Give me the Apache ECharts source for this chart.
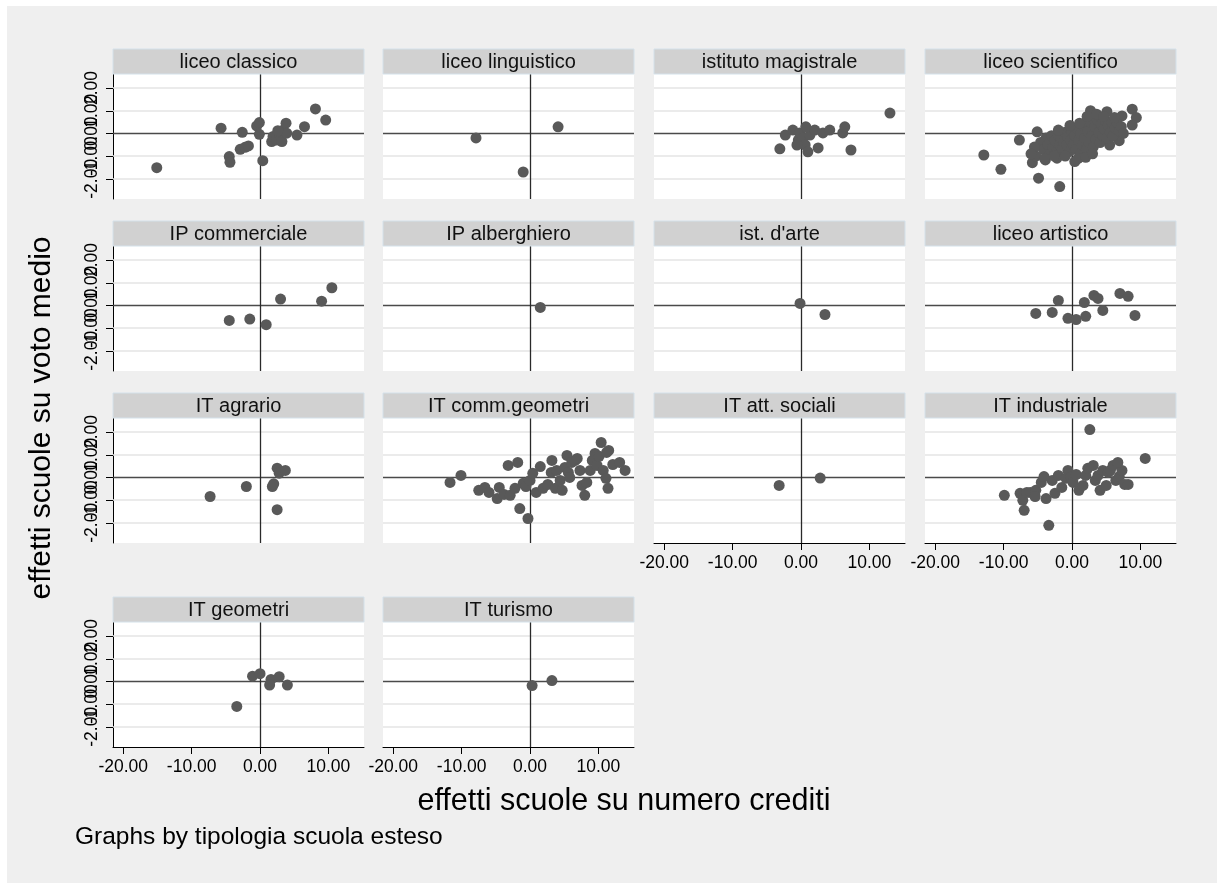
<!DOCTYPE html>
<html>
<head>
<meta charset="utf-8">
<script src="https://cdn.jsdelivr.net/npm/echarts@6/dist/echarts.min.js"></script>
<style>
  html, body { margin: 0; padding: 0; background: #ffffff; }
  #bg { position: absolute; left: 7px; top: 6px; right: 0; bottom: 0; background: #efefef; }
  #chart { position: absolute; left: 0; top: 0; width: 1217px; height: 883px; }
</style>
</head>
<body>
<div id="bg"></div>
<div id="chart"></div>
<script>
// Panel titles (one panel per school type)
const panelNames = [
  'liceo classico', 'liceo linguistico', 'istituto magistrale', 'liceo scientifico',
  'IP commerciale', 'IP alberghiero', "ist. d'arte", 'liceo artistico',
  'IT agrario', 'IT comm.geometri', 'IT att. sociali', 'IT industriale',
  'IT geometri', 'IT turismo'
];

// [effect on credits, effect on mean grade] for each school
const liceoClassico = [
  [-15.1, -1.51], [-5.7, 0.23], [-2.6, 0.05], [-4.5, -1.02], [-4.4, -1.27],
  [-2.9, -0.70], [-2.2, -0.61], [-1.7, -0.55], [-0.5, 0.33], [-0.1, 0.48],
  [-0.1, -0.04], [0.4, -1.20], [1.7, -0.36], [1.9, -0.14], [2.4, -0.29],
  [2.9, -0.07], [3.2, -0.36], [3.4, 0.15], [3.8, 0.45], [3.9, 0.01],
  [2.6, 0.12], [5.4, -0.07], [6.5, 0.30], [8.1, 1.08], [9.6, 0.59]
];
const liceoLinguistico = [[-7.9, -0.20], [-1.0, -1.70], [4.1, 0.29]];
const istitutoMagistrale = [
  [-3.1, -0.68], [-2.3, -0.07], [-1.2, 0.15], [-0.4, -0.29], [-0.2, 0.02],
  [0.3, -0.20], [0.6, -0.51], [1.0, -0.81], [1.3, -0.07], [2.0, 0.15],
  [2.5, -0.64], [3.2, 0.02], [4.2, 0.15], [6.1, 0.02], [6.4, 0.29],
  [7.3, -0.73], [13.0, 0.90], [-0.6, -0.51], [0.7, 0.29]
];
const liceoScientifico = [
  [-12.9, -0.95], [-10.4, -1.58], [-4.9, -1.97], [-1.8, -2.34], [-7.7, -0.29],
  [-5.1, 0.07], [-5.8, -1.29], [-5.3, -1.00], [-3.9, -1.17], [-2.2, -1.09],
  [0.4, -1.24], [2.7, 1.00], [5.1, 0.96], [7.3, 0.77], [8.8, 1.07],
  [9.4, 0.70], [8.8, 0.37], [5.5, -0.51], [6.9, -0.32],
  [-4.6, -0.4], [-4.2, -0.7], [-3.8, -0.2], [-3.5, -0.5], [-3.2, -0.9],
  [-3.0, -0.1], [-2.8, -0.6], [-2.5, -0.3], [-2.3, -0.8], [-2.0, -0.1],
  [-1.8, -0.5], [-1.6, -0.2], [-1.4, -0.7], [-1.2, -0.35], [-1.0, 0.05],
  [-0.8, -0.5], [-0.6, -0.15], [-0.4, -0.8], [-0.2, -0.3], [0.0, 0.1],
  [0.2, -0.5], [0.4, -0.1], [0.6, -0.7], [0.8, 0.2], [1.0, -0.3],
  [1.2, -0.9], [1.3, 0.0], [1.5, -0.5], [1.7, 0.35], [1.9, -0.2],
  [2.1, -0.7], [2.3, 0.1], [2.5, -0.4], [2.7, 0.5], [2.9, -0.1],
  [3.1, -0.6], [3.3, 0.3], [3.5, -0.25], [3.7, 0.6], [3.9, 0.05],
  [4.1, -0.4], [4.3, 0.4], [4.5, -0.1], [4.7, 0.2], [4.9, 0.55],
  [5.1, -0.2], [5.3, 0.35], [5.6, 0.05], [5.8, 0.5], [6.0, -0.1],
  [6.3, 0.25], [6.6, 0.45], [6.9, 0.1], [7.2, 0.3], [7.5, 0.0],
  [-4.0, -1.1], [-2.6, -1.0], [-1.0, -1.0], [0.9, -1.1], [2.0, -1.05],
  [3.0, -0.9], [-5.5, -0.6], [-6.0, -0.9], [-0.3, 0.35], [1.1, 0.45],
  [2.2, 0.75], [3.6, 0.85], [4.6, 0.75], [6.2, 0.7], [-2.0, 0.15]
];
const ipCommerciale = [
  [-4.5, -0.66], [-1.5, -0.60], [0.9, -0.85], [3.0, 0.28], [9.0, 0.19], [10.5, 0.78]
];
const ipAlberghiero = [[1.5, -0.09]];
const istArte = [[-0.15, 0.09], [3.5, -0.40]];
const liceoArtistico = [
  [-5.3, -0.35], [-2.9, -0.31], [-2.0, 0.22], [-0.6, -0.57], [0.6, -0.62],
  [1.8, 0.13], [2.0, -0.48], [3.2, 0.44], [3.8, 0.31], [4.5, -0.22],
  [7.0, 0.53], [8.2, 0.40], [9.2, -0.44]
];
const itAgrario = [
  [-7.3, -0.84], [-2.0, -0.40], [1.8, -0.40], [2.0, -0.28], [2.5, 0.41],
  [2.8, 0.19], [3.7, 0.31], [2.5, -1.42]
];
const itCommGeometri = [
  [-11.7, -0.22], [-10.1, 0.09], [-7.5, -0.57], [-6.6, -0.44], [-6.0, -0.66],
  [-4.8, -0.93], [-4.5, -0.44], [-3.8, -0.75], [-3.2, 0.53], [-2.9, -0.79],
  [-2.2, -0.48], [-1.8, 0.66], [-1.5, -1.37], [-1.0, -0.26], [-0.6, -0.40],
  [-0.3, -1.81], [0.0, -0.13], [0.4, 0.18], [0.9, -0.66], [1.5, 0.48],
  [1.9, -0.48], [2.6, -0.31], [3.1, 0.22], [3.7, -0.48], [3.9, 0.31],
  [4.4, -0.13], [4.7, -0.57], [5.1, 0.44], [5.4, 0.97], [5.6, 0.22],
  [5.8, 0.00], [6.1, 0.66], [6.6, 0.75], [6.9, 0.84], [7.3, 0.31],
  [7.6, -0.35], [8.0, -0.79], [8.3, -0.22], [8.8, 0.31], [9.1, 0.75],
  [9.5, 1.06], [9.8, 0.53], [10.1, 0.93], [10.4, 1.54], [10.7, 0.31],
  [11.1, -0.04], [11.4, -0.48], [11.5, 1.19], [12.1, 0.57], [13.1, 0.66],
  [13.9, 0.31], [11.2, 1.10], [3.2, 0.75]
];
const itAttSociali = [[-3.2, -0.35], [2.8, -0.03]];
const itIndustriale = [
  [-9.9, -0.79], [-7.6, -0.70], [-7.2, -1.01], [-7.0, -1.45], [-6.6, -0.66],
  [-6.1, -0.66], [-5.3, -0.57], [-4.5, -0.22], [-3.8, -0.93], [-3.4, -2.11],
  [-2.9, -0.13], [-2.5, -0.70], [-2.0, 0.09], [-1.5, -0.44], [-0.9, -0.04],
  [-0.6, 0.31], [-0.15, 0.04], [0.15, -0.22], [0.6, 0.13], [1.0, -0.57],
  [1.6, -0.35], [2.0, 0.09], [2.3, 0.40], [2.6, 2.11], [3.1, 0.53],
  [3.4, -0.13], [3.8, 0.09], [4.1, -0.57], [4.5, 0.31], [5.0, -0.35],
  [5.3, 0.22], [5.6, 0.31], [6.0, 0.53], [6.4, -0.13], [6.9, 0.04],
  [7.3, 0.31], [7.7, -0.31], [8.2, -0.31], [6.7, 0.66], [10.7, 0.84],
  [-5.4, -0.84], [-4.1, 0.04]
];
const itGeometri = [
  [-3.4, -1.10], [-1.1, 0.23], [0.0, 0.34], [1.6, 0.09], [1.4, -0.16],
  [2.8, 0.21], [4.0, -0.16]
];
const itTurismo = [[0.3, -0.18], [3.2, 0.04]];

const panelData = [
  liceoClassico, liceoLinguistico, istitutoMagistrale, liceoScientifico,
  ipCommerciale, ipAlberghiero, istArte, liceoArtistico,
  itAgrario, itCommGeometri, itAttSociali, itIndustriale,
  itGeometri, itTurismo
];

// Axis scales and tick labels
const xTicks = [-20, -10, 0, 10];
const yTicks = [-2, -1, 0, 1, 2];
const yLabelsEven = [-2, 0, 2];   // drawn by the main y axis
const yLabelsOdd = [-1, 1];       // drawn by a label-only companion axis
const xMin = -21.5, xMax = 15.2;
const yMin = -2.89, yMax = 2.62;

const yTitle = 'effetti scuole su voto medio';
const xTitle = 'effetti scuole su numero crediti';
const noteText = 'Graphs by tipologia scuola esteso';

// Panel layout (pixels)
const FONT = '"Liberation Sans", Arial, Helvetica, sans-serif';
const colLeft = [113, 383, 654, 925];
const rowTop = [74, 246, 418, 622];
const plotW = 251, plotH = 125, stripH = 25;
const dotColor = '#595959';

const grids = [], xAxes = [], yAxes = [], extraYAxes = [], series = [], graphics = [];

const yLabelStyle = {
  rotate: 90, margin: 12, hideOverlap: false, showMinLabel: true, showMaxLabel: true,
  formatter: v => v.toFixed(2), color: '#000', fontSize: 17.5, fontFamily: FONT
};

panelData.forEach((pts, i) => {
  const row = Math.floor(i / 4), col = i % 4;
  const left = colLeft[col], top = rowTop[row];
  const showX = i >= 10;      // bottom panel of each column
  const showY = col === 0;    // first column carries the y axis

  grids.push({ left: left, top: top, width: plotW, height: plotH,
    show: true, backgroundColor: '#ffffff', borderWidth: 0 });

  xAxes.push({
    type: 'value', gridIndex: i, min: xMin, max: xMax,
    axisLine: { show: showX, onZero: false, lineStyle: { color: '#000', width: 1 } },
    axisTick: { show: showX, customValues: xTicks, length: 7, lineStyle: { color: '#000' } },
    axisLabel: { show: showX, customValues: xTicks, margin: 11, hideOverlap: false,
      formatter: v => v.toFixed(2), color: '#000', fontSize: 17.5, fontFamily: FONT },
    splitLine: { show: false }
  });

  yAxes.push({
    type: 'value', gridIndex: i, min: yMin, max: yMax, position: 'left',
    axisLine: { show: showY, onZero: false, lineStyle: { color: '#000', width: 1 } },
    axisTick: { show: showY, customValues: yTicks, length: 7, lineStyle: { color: '#000' } },
    axisLabel: Object.assign({ show: showY, customValues: yLabelsEven }, yLabelStyle),
    splitLine: { show: false }
  });

  if (showY) {
    extraYAxes.push({
      type: 'value', gridIndex: i, min: yMin, max: yMax, position: 'left', offset: 0,
      axisLine: { show: false }, axisTick: { show: false },
      axisLabel: Object.assign({ show: true, customValues: yLabelsOdd }, yLabelStyle),
      splitLine: { show: false }
    });
  }

  const gridLines = yTicks.filter(v => v !== 0).map(v => ({
    yAxis: v, lineStyle: { color: '#e4e4e4', width: 1.5, type: 'solid' }
  }));
  gridLines.push({ yAxis: 0, lineStyle: { color: '#4a4a4a', width: 1.3, type: 'solid' } });
  gridLines.push({ xAxis: 0, lineStyle: { color: '#2a2a2a', width: 1.3, type: 'solid' } });

  series.push({
    type: 'scatter', xAxisIndex: i, yAxisIndex: i, z: 3,
    data: pts, symbol: 'circle', symbolSize: 11,
    itemStyle: { color: dotColor, opacity: 1 },
    markLine: { silent: true, symbol: ['none', 'none'], z: 1, animation: false,
      label: { show: false }, emphasis: { disabled: true }, data: gridLines }
  });

  // Title strip above the panel
  graphics.push({
    type: 'rect', shape: { x: left, y: top - stripH, width: plotW, height: stripH },
    style: { fill: '#d1d1d1', stroke: '#d4e1ea', lineWidth: 1 }, z: 10
  });
  graphics.push({
    type: 'text', x: left + plotW / 2, y: top - stripH / 2 + 1, z: 11,
    style: { text: panelNames[i], fill: '#111', font: '20px ' + FONT,
      textAlign: 'center', textVerticalAlign: 'middle' }
  });
});

graphics.push({
  type: 'text', x: 42, y: 418, rotation: Math.PI / 2, z: 11,
  style: { text: yTitle, fill: '#000', font: '30px ' + FONT,
    textAlign: 'center', textVerticalAlign: 'middle' }
});
graphics.push({
  type: 'text', x: 624, y: 802, z: 11,
  style: { text: xTitle, fill: '#000', font: '30.5px ' + FONT,
    textAlign: 'center', textVerticalAlign: 'middle' }
});
graphics.push({
  type: 'text', x: 75, y: 837, z: 11,
  style: { text: noteText, fill: '#000', font: '24.5px ' + FONT,
    textAlign: 'left', textVerticalAlign: 'middle' }
});

const chart = echarts.init(document.getElementById('chart'), null, { renderer: 'canvas' });
chart.setOption({
  animation: false,
  grid: grids,
  xAxis: xAxes,
  yAxis: yAxes.concat(extraYAxes),
  series: series,
  graphic: graphics
});
</script>
</body>
</html>
